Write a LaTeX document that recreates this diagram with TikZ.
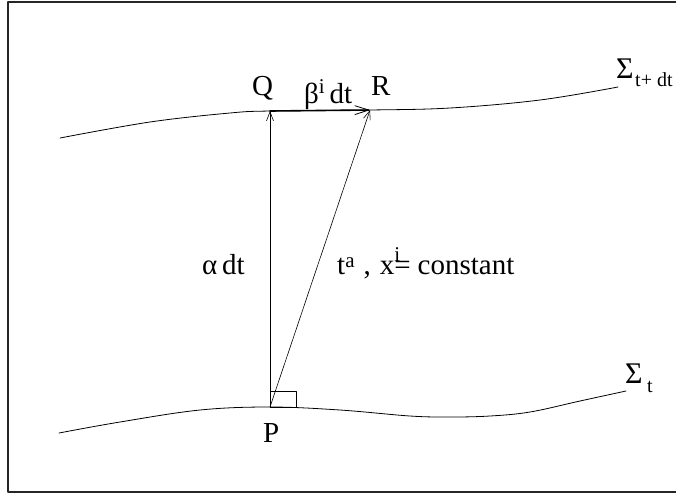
\documentclass[tikz,border=0pt]{standalone}
\usepackage{fontspec}
\setmainfont{Liberation Serif}
\usetikzlibrary{arrows.meta}
\newcommand\upidx[2]{\raisebox{#1pt}{\fontsize{21}{21}\selectfont #2}}

\begin{document}
\begin{tikzpicture}[x=1pt,y=-1pt,line cap=round,line join=round,
  lbl/.style={inner sep=0pt,anchor=base west,font=\fontsize{29}{32}\selectfont},
  sig/.style={inner sep=0pt,anchor=base west,font=\fontsize{30}{32}\selectfont},
  subs/.style={inner sep=0pt,anchor=base west,font=\fontsize{20}{22}\selectfont},
  thin/.style={line width=0.6pt},
  barb/.style={-{Straight Barb[length=9pt,width=7pt]}}]
  \useasboundingbox (0,0) rectangle (676,496);
  % frame
  \draw[line width=1.2pt,black!85] (8,2) rectangle (700,492);
  % hypersurfaces Sigma_{t+dt} and Sigma_t
  \draw[line width=0.8pt] plot[smooth,tension=0.6] coordinates {(60,138) (150,122) (230,113) (270,111) (370,110) (450,108) (540,100) (618,87)};
  \draw[line width=0.8pt] plot[smooth,tension=0.6] coordinates {(59,433) (120,422) (200,410) (270,407) (340,410) (410,416) (450,417) (490,416) (530,412) (580,401) (626,391)};
  % points
  \coordinate (P) at (270,407);
  \coordinate (Q) at (270,111);
  \coordinate (R) at (370,110);
  % vectors
  \draw[thin,barb] (P) -- (Q);
  \draw[thin,barb] (P) -- (R);
  \draw[line width=1.6pt,-{Straight Barb[length=14pt,width=9pt,line width=0.8pt]}] (Q) -- (R);
  % right angle at P
  \draw[thin] (P) rectangle ++(26,-16);
  % labels
  \node[lbl] (lQ) at (252,95) {Q};
  \node[lbl] (lR) at (371,95) {R};
  \node[lbl] (lshift) at (304,103) {β\upidx{10}{i}\,dt};
  \node[lbl] (lP) at (263,442) {P};
  \node[lbl] (llapse) at (202,274) {α\,dt};
  \node[lbl] (lline) at (337,274) {t\upidx{7}{a}\hspace{9pt},\hspace{9pt}x\rlap{\upidx{13}{i}}=\hspace{7pt}constant};
  \node[sig] (sigtop) at (616,78) {Σ};
  \node[subs] (sigtopsub) at (635,86) {t+ dt};
  \node[sig] (sigbot) at (625,383) {Σ};
  \node[subs] (sigbotsub) at (647,392) {t};
\end{tikzpicture}
\end{document}
